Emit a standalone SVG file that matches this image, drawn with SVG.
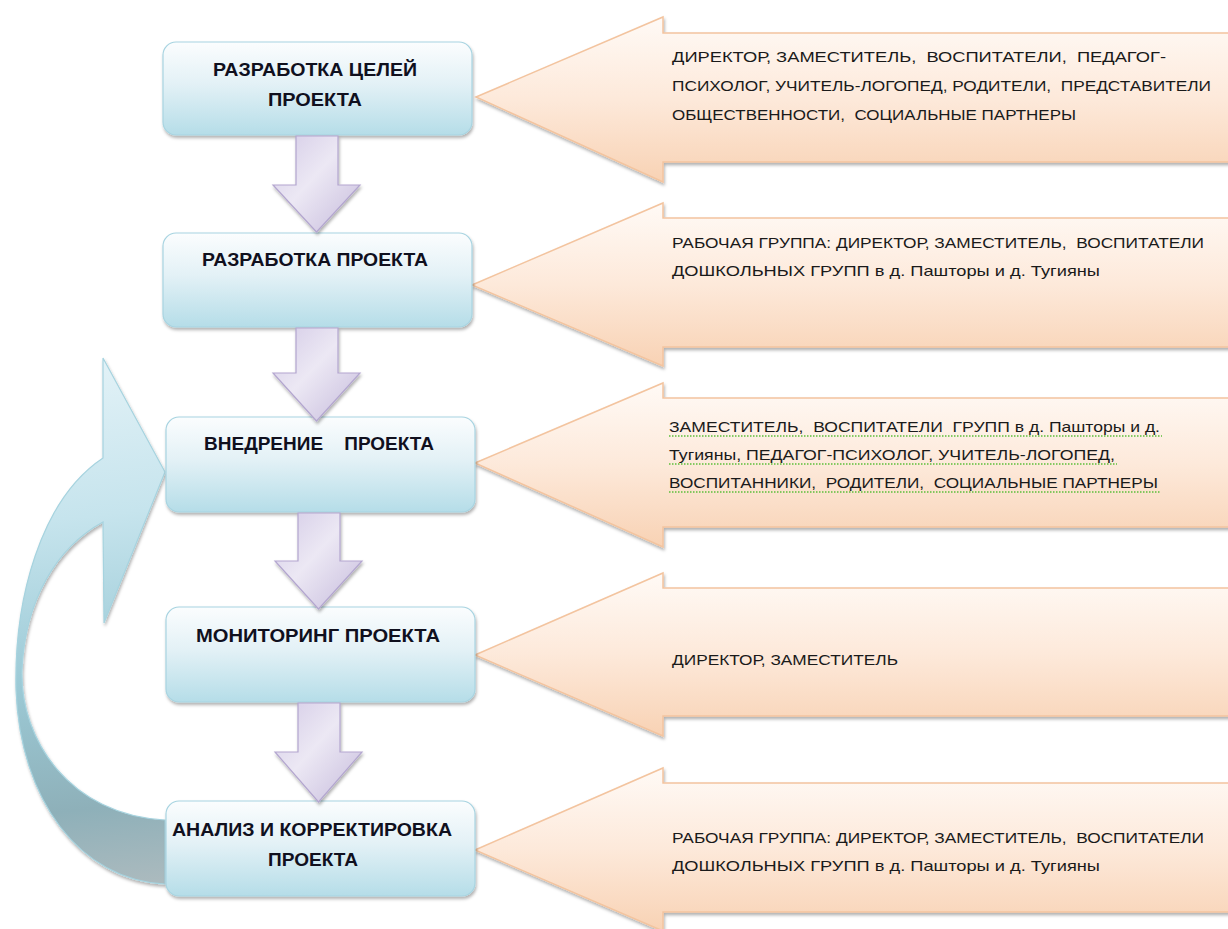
<svg xmlns="http://www.w3.org/2000/svg" width="1228" height="929" viewBox="0 0 1228 929">
<defs>
<linearGradient id="gBox" x1="0" y1="0" x2="0" y2="1">
<stop offset="0" stop-color="#fbfdfe"/><stop offset="0.45" stop-color="#e3f1f6"/><stop offset="1" stop-color="#b5dde8"/>
</linearGradient>
<linearGradient id="gOr" x1="0" y1="0" x2="0" y2="1">
<stop offset="0" stop-color="#fffaf6"/><stop offset="0.5" stop-color="#fde9da"/><stop offset="1" stop-color="#f8d2b4"/>
</linearGradient>
<linearGradient id="gLav" x1="0" y1="0" x2="1" y2="1">
<stop offset="0" stop-color="#d3cae6"/><stop offset="0.45" stop-color="#ece8f4"/><stop offset="1" stop-color="#c6bbdc"/>
</linearGradient>
<linearGradient id="gCurve" gradientUnits="userSpaceOnUse" x1="60" y1="360" x2="120" y2="885">
<stop offset="0" stop-color="#e3f2f7"/><stop offset="0.3" stop-color="#c6e4ed"/><stop offset="0.6" stop-color="#9ccad6"/><stop offset="0.85" stop-color="#8eb0b9"/><stop offset="1" stop-color="#abbabe"/>
</linearGradient>
<filter id="sh" x="-5%" y="-5%" width="110%" height="120%">
<feDropShadow dx="1" dy="2.5" stdDeviation="1.5" flood-color="#000" flood-opacity="0.3"/>
</filter>
<style>
text{white-space:pre}
.box{fill:url(#gBox);stroke:#a8d4e1;stroke-width:1.2;filter:url(#sh)}
.oarr{fill:url(#gOr);stroke:#f3c49f;stroke-width:1.5;filter:url(#sh)}
.darr{fill:url(#gLav);stroke:#b3a6cf;stroke-width:1.2;filter:url(#sh)}
.curve{fill:url(#gCurve);stroke:#a6d3df;stroke-width:1.2;filter:url(#sh)}
.bt{font-family:"Liberation Sans",Arial,sans-serif;font-weight:bold;font-size:18px;fill:#10101e;text-anchor:middle}
.ot{font-family:"Liberation Sans",Arial,sans-serif;font-size:15px;fill:#1a1a1a}
.sq{stroke:#5cbf3a;stroke-width:1.6;stroke-dasharray:1.5 1.5;fill:none}
</style>
</defs>
<rect width="1228" height="929" fill="#ffffff"/>

<g id="feedback-arrow">
<path class="curve" d="M103,358 L165,472 L104,623 L103,522 C57,547 25,600 22,670 C20,740 70,815 165,820 L165,884 C80,880 20,800 16,690 C14,600 40,500 103,458 Z"/>
</g>

<g id="participants">
<g id="p1">
<path class="oarr" d="M476,97 L663,17 L663,33 L1230,33 L1230,162 L663,162 L663,182 Z"/>
<text class="ot" x="672" y="62" textLength="494" lengthAdjust="spacingAndGlyphs">ДИРЕКТОР, ЗАМЕСТИТЕЛЬ,  ВОСПИТАТЕЛИ,  ПЕДАГОГ-</text>
<text class="ot" x="672" y="91" textLength="539" lengthAdjust="spacingAndGlyphs">ПСИХОЛОГ, УЧИТЕЛЬ-ЛОГОПЕД, РОДИТЕЛИ,  ПРЕДСТАВИТЕЛИ</text>
<text class="ot" x="672" y="120" textLength="404" lengthAdjust="spacingAndGlyphs">ОБЩЕСТВЕННОСТИ,  СОЦИАЛЬНЫЕ ПАРТНЕРЫ</text>
</g>
<g id="p2">
<path class="oarr" d="M472,285 L663,203 L663,218 L1230,218 L1230,347 L663,347 L663,366 Z"/>
<text class="ot" x="672" y="248" textLength="532" lengthAdjust="spacingAndGlyphs">РАБОЧАЯ ГРУППА: ДИРЕКТОР, ЗАМЕСТИТЕЛЬ,  ВОСПИТАТЕЛИ</text>
<text class="ot" x="672" y="276" textLength="428" lengthAdjust="spacingAndGlyphs">ДОШКОЛЬНЫХ ГРУПП в д. Пашторы и д. Тугияны</text>
</g>
<g id="p3">
<path class="oarr" d="M475,463 L663,383 L663,398 L1230,398 L1230,527 L663,527 L663,547 Z"/>
<text class="ot" x="669" y="432" textLength="491" lengthAdjust="spacingAndGlyphs">ЗАМЕСТИТЕЛЬ,  ВОСПИТАТЕЛИ  ГРУПП в д. Пашторы и д.</text>
<text class="ot" x="669" y="460" textLength="446" lengthAdjust="spacingAndGlyphs">Тугияны, ПЕДАГОГ-ПСИХОЛОГ, УЧИТЕЛЬ-ЛОГОПЕД,</text>
<text class="ot" x="669" y="488" textLength="489" lengthAdjust="spacingAndGlyphs">ВОСПИТАННИКИ,  РОДИТЕЛИ,  СОЦИАЛЬНЫЕ ПАРТНЕРЫ</text>
<path class="sq" d="M669,436 H1162 M669,464 H1117 M669,492 H1160"/>
</g>
<g id="p4">
<path class="oarr" d="M475,655 L663,573 L663,588 L1230,588 L1230,716 L663,716 L663,736 Z"/>
<text class="ot" x="672" y="665" textLength="226" lengthAdjust="spacingAndGlyphs">ДИРЕКТОР, ЗАМЕСТИТЕЛЬ</text>
</g>
<g id="p5">
<path class="oarr" d="M475,850 L663,768 L663,783 L1230,783 L1230,912 L663,912 L663,931 Z"/>
<text class="ot" x="672" y="843" textLength="532" lengthAdjust="spacingAndGlyphs">РАБОЧАЯ ГРУППА: ДИРЕКТОР, ЗАМЕСТИТЕЛЬ,  ВОСПИТАТЕЛИ</text>
<text class="ot" x="672" y="871" textLength="428" lengthAdjust="spacingAndGlyphs">ДОШКОЛЬНЫХ ГРУПП в д. Пашторы и д. Тугияны</text>
</g>
</g>

<g id="stage1">
<rect class="box" x="163" y="42" width="309" height="93" rx="13"/>
<text class="bt" x="315" y="76" textLength="204" lengthAdjust="spacingAndGlyphs">РАЗРАБОТКА ЦЕЛЕЙ</text>
<text class="bt" x="315" y="106" textLength="94" lengthAdjust="spacingAndGlyphs">ПРОЕКТА</text>
</g>
<g id="stage2">
<rect class="box" x="163" y="233" width="309" height="94" rx="13"/>
<text class="bt" x="315" y="266" textLength="226" lengthAdjust="spacingAndGlyphs">РАЗРАБОТКА ПРОЕКТА</text>
</g>
<g id="stage3">
<rect class="box" x="166" y="417" width="309" height="95" rx="13"/>
<text class="bt" x="319" y="450" textLength="230" lengthAdjust="spacingAndGlyphs">ВНЕДРЕНИЕ    ПРОЕКТА</text>
</g>
<g id="stage4">
<rect class="box" x="166" y="607" width="309" height="95" rx="13"/>
<text class="bt" x="318" y="642" textLength="244" lengthAdjust="spacingAndGlyphs">МОНИТОРИНГ ПРОЕКТА</text>
</g>
<g id="stage5">
<rect class="box" x="166" y="801" width="309" height="95" rx="13"/>
<text class="bt" x="312" y="836" textLength="280" lengthAdjust="spacingAndGlyphs">АНАЛИЗ И КОРРЕКТИРОВКА</text>
<text class="bt" x="313" y="866" textLength="90" lengthAdjust="spacingAndGlyphs">ПРОЕКТА</text>
</g>

<g id="connectors">
<path class="darr" d="M296,136 L338,136 L338,185 L360,185 L316.5,232 L273,185 L296,185 Z"/>
<path class="darr" d="M296,328 L338,328 L338,373 L360,373 L316.5,421 L273,373 L296,373 Z"/>
<path class="darr" d="M298,513 L340,513 L340,561 L362,561 L318.5,609 L275,561 L298,561 Z"/>
<path class="darr" d="M298,703 L340,703 L340,752 L362,752 L318.5,802 L275,752 L298,752 Z"/>
</g>
</svg>
